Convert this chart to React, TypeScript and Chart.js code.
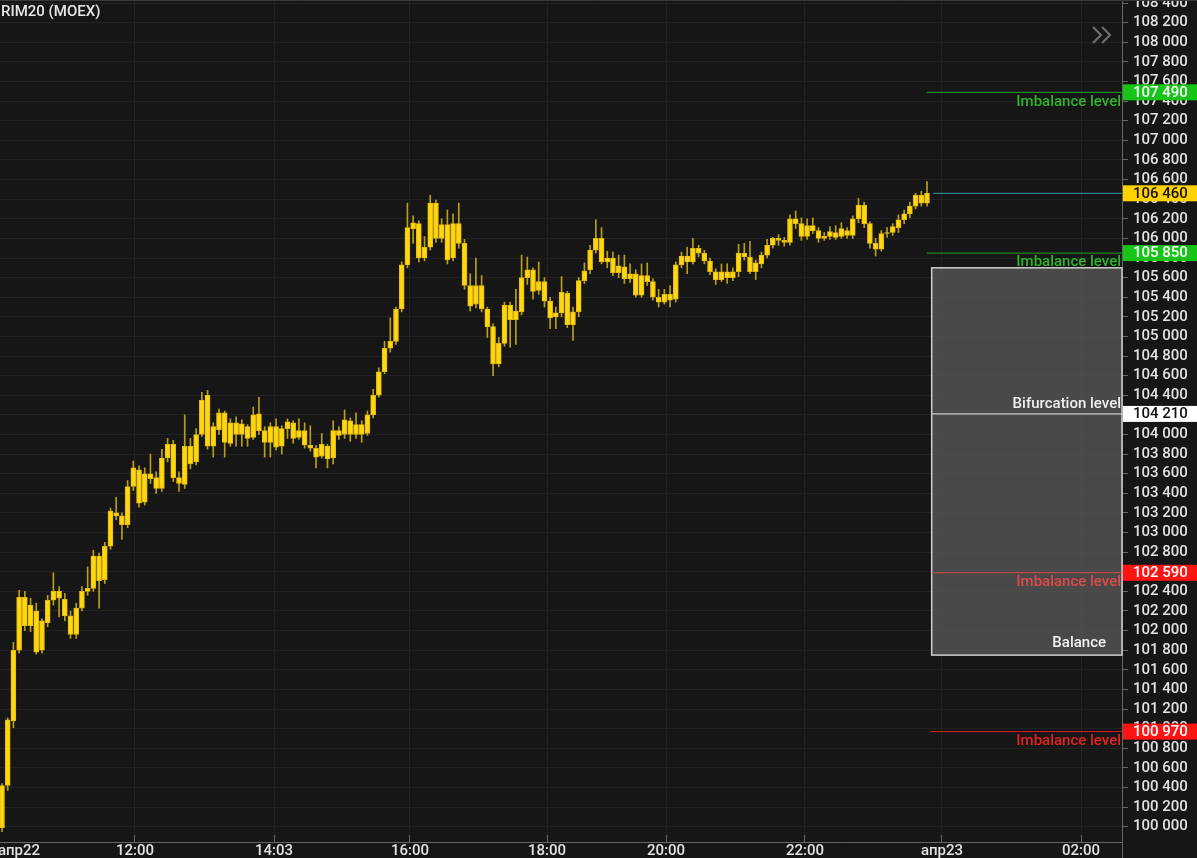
import React, { useEffect, useRef } from "react";
import { Chart, registerables } from "chart.js";

Chart.register(...registerables);

// ---------- data ----------
const chartTitle = "RIM20 (MOEX)";

const opens = [
  99990, 100420, 101080, 101800, 102340, 102050, 102200, 101800, 102080, 102310,
  102400, 102320, 102150, 101960, 102230, 102400, 102430, 102760, 102520, 102860,
  103200, 103170, 103080, 103470, 103640, 103310, 103600, 103560, 103450, 103760,
  103900, 103560, 103490, 103880, 103720, 104000, 104400, 103880, 104050, 104220,
  103910, 104120, 104000, 104080, 103970, 104210, 104040, 103920, 104080, 103880,
  104060, 104120, 103970, 104040, 103890, 103860, 103780, 103880, 103760, 104040,
  104000, 104140, 104000, 104100, 104010, 104200, 104400, 104640, 104880, 104950,
  105280, 105730, 106100, 106150, 105800, 105910, 106360, 106000, 106140, 105800,
  106150, 105950, 105520, 105330, 105520, 105280, 105100, 104720, 104930, 105320,
  105170, 105250, 105600, 105680, 105470, 105560, 105360, 105200, 105240, 105440,
  105120, 105250, 105570, 105680, 105880, 106000, 105760, 105800, 105650, 105710,
  105590, 105640, 105420, 105620, 105560, 105400, 105350, 105430, 105380, 105730,
  105820, 105760, 105900, 105850, 105770, 105660, 105580, 105660, 105600, 105660,
  105850, 105810, 105660, 105740, 105830, 105930, 106000, 105980, 105960, 106200,
  106150, 106020, 106130, 106080, 106000, 106020, 106060, 106020, 106080, 106030,
  106200, 106340, 106150, 105950, 105890, 106050, 106060, 106110, 106190, 106250,
  106330, 106440, 106360,
];
const highs = [
  100440, 101110, 101880, 102410, 102400, 102330, 102280, 102120, 102360, 102590,
  102450, 102380, 102200, 102280, 102450, 102650, 102820, 102790, 102900, 103250,
  103360, 103200, 103530, 103730, 103680, 103660, 103800, 103620, 103850, 103960,
  103940, 103620, 104200, 103960, 104060, 104430, 104450, 104120, 104260, 104240,
  104160, 104180, 104150, 104100, 104280, 104380, 104080, 104120, 104160, 104090,
  104160, 104140, 104160, 104120, 104090, 103890, 104010, 103900, 104140, 104080,
  104250, 104170, 104220, 104140, 104240, 104460, 104680, 104950, 105190, 105300,
  105760, 106360, 106230, 106180, 106020, 106440, 106390, 106200, 106290, 106250,
  106360, 105990, 105640, 105800, 105620, 105300, 105130, 104990, 105350, 105350,
  105480, 105830, 105810, 105700, 105760, 105600, 105400, 105300, 105610, 105460,
  105300, 105600, 105750, 105930, 106190, 106110, 105870, 105860, 105830, 105830,
  105740, 105680, 105740, 105750, 105590, 105480, 105480, 105520, 105760, 105860,
  105910, 106000, 105930, 105880, 105800, 105690, 105740, 105740, 105700, 105940,
  105950, 105970, 105780, 105860, 105990, 106010, 106040, 106010, 106240, 106280,
  106210, 106200, 106210, 106110, 106060, 106120, 106130, 106160, 106110, 106230,
  106410, 106370, 106170, 106000, 106080, 106110, 106150, 106240, 106290, 106370,
  106460, 106480, 106580,
];
const lows = [
  99950, 100370, 101010, 101770, 102000, 101990, 101760, 101770, 102040, 102260,
  102140, 102100, 101920, 101920, 102200, 102360, 102400, 102230, 102480, 102830,
  103130, 102930, 103050, 103430, 103260, 103280, 103500, 103400, 103420, 103720,
  103520, 103420, 103450, 103650, 103690, 103980, 103850, 103770, 104000, 103770,
  103880, 103880, 103880, 103880, 103950, 104000, 103770, 103770, 103840, 103800,
  103960, 103910, 103950, 103860, 103830, 103660, 103760, 103660, 103700, 103950,
  103960, 103930, 103960, 103920, 103990, 104170, 104380, 104620, 104840, 104920,
  105250, 105700, 105950, 105760, 105770, 105880, 105960, 105960, 105740, 105770,
  105900, 105480, 105260, 105290, 105250, 104990, 104600, 104690, 104900, 104890,
  104920, 105220, 105530, 105380, 105430, 105300, 105080, 105080, 105200, 105090,
  104960, 105200, 105540, 105640, 105850, 105740, 105700, 105620, 105600, 105540,
  105550, 105400, 105400, 105520, 105370, 105300, 105330, 105300, 105350, 105700,
  105640, 105740, 105810, 105740, 105630, 105530, 105560, 105540, 105570, 105610,
  105780, 105640, 105580, 105700, 105800, 105900, 105930, 105920, 105930, 106100,
  105980, 105990, 106050, 105960, 105980, 105990, 105990, 106000, 106000, 106000,
  106160, 106110, 105900, 105820, 105870, 106010, 106030, 106060, 106150, 106210,
  106300, 106330, 106330,
];
const closes = [
  100420, 101090, 101800, 102340, 102050, 102260, 101780, 102100, 102310, 102400,
  102330, 102150, 101960, 102230, 102400, 102430, 102760, 102510, 102860, 103220,
  103170, 103080, 103470, 103660, 103300, 103600, 103550, 103450, 103760, 103900,
  103560, 103500, 103880, 103700, 104000, 104350, 103880, 104080, 104220, 103920,
  104120, 104000, 104110, 103960, 104200, 104040, 103920, 104080, 103870, 104060,
  104130, 103960, 104040, 103890, 103860, 103770, 103900, 103750, 104040, 103990,
  104150, 104000, 104100, 104000, 104200, 104400, 104640, 104880, 104950, 105280,
  105730, 106110, 106160, 105800, 105910, 106360, 106000, 106140, 105780, 106150,
  105950, 105520, 105310, 105520, 105280, 105100, 104720, 104930, 105320, 105170,
  105260, 105600, 105680, 105460, 105560, 105360, 105190, 105240, 105450, 105120,
  105250, 105570, 105670, 105880, 106000, 105760, 105800, 105650, 105720, 105590,
  105640, 105420, 105620, 105560, 105400, 105350, 105430, 105370, 105730, 105820,
  105760, 105900, 105850, 105770, 105660, 105580, 105660, 105600, 105660, 105850,
  105810, 105660, 105750, 105830, 105930, 106000, 105980, 105960, 106200, 106150,
  106020, 106130, 106080, 106000, 106020, 106070, 106010, 106100, 106030, 106200,
  106340, 106150, 105950, 105890, 106050, 106060, 106120, 106190, 106250, 106330,
  106440, 106360, 106460,
];

// x axis (candle index units)
const xMin = -0.35;
const xMax = 196.15;
const xTickPositions = [2.98, 23.29, 47.64, 71.45, 95.45, 116.29, 140.63, 164.62, 188.97];
const xTickLabels = ["апр22", "12:00", "14:03", "16:00", "18:00", "20:00", "22:00", "апр23", "02:00"];

// y axis
const yMin = 99844;
const yMax = 108431.5;
const yTickFirst = 100000;
const yTickLast = 108400;
const yStep = 200;

// levels
const levelPrices = [107490, 106460, 105850, 104210, 102590, 100970];
const levelStarts = [161.94, 163.1, 161.94, 162.82, 162.82, 162.65];
const levelNames = ["Imbalance level", "", "Imbalance level", "Bifurcation level", "Imbalance level", "Imbalance level"];
const levelNameAbove = [false, false, false, true, false, false];
const levelLineColors = ["#22a622", "#3a9db0", "#22a622", "#e8e8e8", "#d64848", "#e01818"];
const levelNameColors = ["#2cb52c", "#3a9db0", "#2cb52c", "#f0f0f0", "#e04a4a", "#e42222"];
const levelTagColors = ["#17c417", "#ffd200", "#17c417", "#ffffff", "#ff1414", "#ff1414"];
const levelTagTextColors = ["#ffffff", "#111111", "#ffffff", "#111111", "#ffffff", "#ffffff"];

// balance zone
const balanceRange = [101750, 105700];
const balanceStart = 162.82;
const balanceLabel = "Balance";

// ---------- helpers ----------
const FONT = "Roboto, 'Noto Sans', sans-serif";
const fmt = (v: number) => {
  const r = Math.round(v);
  return `${Math.floor(r / 1000)} ${String(r % 1000).padStart(3, "0")}`;
};

const framePlugin = {
  id: "framePlugin",
  beforeDraw(chart: any) {
    const { ctx, width, height } = chart;
    ctx.save();
    ctx.fillStyle = "#161616";
    ctx.fillRect(0, 0, width, height);
    ctx.restore();
  },
  beforeDatasetsDraw(chart: any) {
    const { ctx, chartArea, scales } = chart;
    const x0 = scales.x.getPixelForValue(balanceStart);
    const yTop = scales.y.getPixelForValue(balanceRange[1]);
    const yBot = scales.y.getPixelForValue(balanceRange[0]);
    ctx.save();
    ctx.fillStyle = "rgba(88,88,88,0.78)";
    ctx.fillRect(x0, yTop, chartArea.right - x0, yBot - yTop);
    ctx.strokeStyle = "#cfcfcf";
    ctx.lineWidth = 1.5;
    ctx.strokeRect(x0, yTop, chartArea.right - x0, yBot - yTop);
    ctx.restore();
  },
  afterDraw(chart: any) {
    const { ctx, chartArea, scales, width, height } = chart;
    ctx.save();
    // top frame line
    ctx.strokeStyle = "#3a3a3a";
    ctx.lineWidth = 1;
    ctx.beginPath();
    ctx.moveTo(0, 0.5);
    ctx.lineTo(width, 0.5);
    ctx.stroke();
    // axis line extension
    ctx.strokeStyle = "#666666";
    ctx.beginPath();
    ctx.moveTo(Math.round(chartArea.right) + 0.5, chartArea.bottom);
    ctx.lineTo(Math.round(chartArea.right) + 0.5, height);
    ctx.stroke();

    // title
    ctx.fillStyle = "#e6e6e6";
    ctx.font = `500 15px ${FONT}`;
    ctx.textAlign = "left";
    ctx.textBaseline = "middle";
    ctx.fillText(chartTitle, 1, 12);

    // chevrons
    ctx.strokeStyle = "#6c6c6c";
    ctx.lineWidth = 2.2;
    for (let k = 0; k < 2; k++) {
      const cx = 1093 + k * 9;
      ctx.beginPath();
      ctx.moveTo(cx, 27);
      ctx.lineTo(cx + 8, 35);
      ctx.lineTo(cx, 43);
      ctx.stroke();
    }

    // level names
    ctx.font = `500 15px ${FONT}`;
    levelPrices.forEach((p, k) => {
      const y = scales.y.getPixelForValue(p);
      if (levelNames[k]) {
        ctx.fillStyle = levelNameColors[k];
        ctx.textAlign = "right";
        ctx.textBaseline = "middle";
        ctx.fillText(levelNames[k], chartArea.right - 1, levelNameAbove[k] ? y - 10 : y + 9.5);
      }
    });
    // balance label
    ctx.fillStyle = "#f2f2f2";
    ctx.textAlign = "right";
    ctx.textBaseline = "middle";
    ctx.fillText(balanceLabel, chartArea.right - 16, scales.y.getPixelForValue(balanceRange[0]) - 12);

    // price tags
    levelPrices.forEach((p, k) => {
      const y = scales.y.getPixelForValue(p);
      ctx.fillStyle = levelTagColors[k];
      ctx.fillRect(chartArea.right + 1, y - 8, width - chartArea.right - 1, 16);
      ctx.fillStyle = levelTagTextColors[k];
      ctx.textAlign = "left";
      ctx.textBaseline = "middle";
      ctx.fillText(fmt(p), chartArea.right + 11, y + 0.5);
    });
    ctx.restore();
  },
};

export default function App() {
  const canvasRef = useRef<HTMLCanvasElement | null>(null);

  useEffect(() => {
    document.body.style.margin = "0";
    document.body.style.background = "#161616";
    let chart: Chart | null = null;
    let cancelled = false;

    const build = () => {
      if (cancelled || !canvasRef.current) return;
      const bodyData = opens.map((o, i) => ({ x: i, y: [o, closes[i]] }));
      const wickData = lows.map((l, i) => ({ x: i, y: [l, highs[i]] }));
      const levelSets = levelPrices.map((p, k) => ({
        type: "line" as const,
        label: `level${k}`,
        data: [
          { x: levelStarts[k], y: p },
          { x: xMax, y: p },
        ],
        borderColor: levelLineColors[k],
        borderWidth: 1,
        pointRadius: 0,
        tension: 0,
        order: 0,
      }));

      chart = new Chart(canvasRef.current, {
        type: "bar",
        data: {
          datasets: [
            {
              type: "bar",
              label: "bodies",
              data: bodyData as any,
              backgroundColor: "#ffd60f",
              borderColor: "#e2bb0c",
              borderWidth: 1,
              borderSkipped: false,
              barThickness: 5,
              minBarLength: 1,
              grouped: false,
              order: 1,
            } as any,
            {
              type: "bar",
              label: "wicks",
              data: wickData as any,
              backgroundColor: "#b89e1c",
              barThickness: 1,
              grouped: false,
              order: 2,
            } as any,
            ...(levelSets as any[]),
          ],
        },
        options: {
          animation: false,
          responsive: false,
          maintainAspectRatio: false,
          devicePixelRatio: 1,
          layout: { padding: 0 },
          plugins: {
            legend: { display: false },
            tooltip: { enabled: false },
            title: { display: false },
          },
          scales: {
            x: {
              type: "linear",
              min: xMin,
              max: xMax,
              offset: false,
              afterBuildTicks: (s: any) => {
                s.ticks = xTickPositions.map((v) => ({ value: v }));
              },
              ticks: {
                autoSkip: false,
                maxRotation: 0,
                minRotation: 0,
                color: "#e2e2e2",
                font: { family: FONT, size: 15, weight: "500" },
                padding: 7,
                callback: (_v: any, idx: number) => xTickLabels[idx],
              },
              grid: {
                offset: false,
                color: (c: any) => (c.index === 0 ? "rgba(0,0,0,0)" : "#222222"),
                tickColor: (c: any) => (c.index === 0 ? "rgba(0,0,0,0)" : "#666666"),
                tickLength: -7,
                drawTicks: true,
              },
              border: { color: "#666666" },
              afterFit: (s: any) => {
                s.height = 16;
                s.paddingLeft = 0;
                s.paddingRight = 0;
              },
            } as any,
            y: {
              type: "linear",
              position: "right",
              min: yMin,
              max: yMax,
              afterBuildTicks: (s: any) => {
                const t: { value: number }[] = [];
                for (let v = yTickFirst; v <= yTickLast; v += yStep) t.push({ value: v });
                s.ticks = t;
              },
              ticks: {
                autoSkip: false,
                color: "#e2e2e2",
                font: { family: FONT, size: 15, weight: "500" },
                padding: 5,
                callback: (v: any) => fmt(Number(v)),
              },
              grid: { offset: false, color: "#222222", tickColor: "#666666", tickLength: 6 },
              border: { color: "#666666" },
              afterFit: (s: any) => {
                s.width = 75;
                s.paddingTop = 0;
                s.paddingBottom = 0;
              },
            } as any,
          },
        },
        plugins: [framePlugin],
      });
    };

    const fontsReady = (document as any).fonts
      ? Promise.all([
          (document as any).fonts.load(`15px Roboto`),
          (document as any).fonts.load(`500 15px Roboto`),
        ]).catch(() => null)
      : Promise.resolve(null);
    fontsReady.then(build);

    return () => {
      cancelled = true;
      if (chart) chart.destroy();
    };
  }, []);

  return (
    <div style={{ width: 1197, height: 858, background: "#161616" }}>
      <canvas ref={canvasRef} width={1197} height={858} style={{ display: "block" }} />
    </div>
  );
}
